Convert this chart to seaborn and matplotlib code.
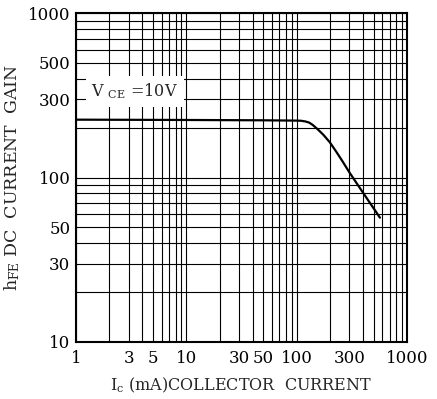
import numpy as np
import pandas as pd
import matplotlib
matplotlib.use("Agg")
import matplotlib.pyplot as plt
import matplotlib.ticker as mticker
import seaborn as sns

# values
ic_ma = [1, 10, 50, 100, 110, 120, 130, 140, 155, 175, 200, 230, 260, 300, 350, 400, 460, 520, 570]
hfe = [225, 224, 223, 222, 221.5, 219.5, 216, 209, 197, 182, 164, 143, 126, 108, 92.5, 81, 70.5, 62.5, 57]

x_ticks = [1, 3, 5, 10, 30, 50, 100, 300, 1000]
y_ticks = [10, 30, 50, 100, 300, 500, 1000]

df = pd.DataFrame({"Ic": ic_ma, "hFE": hfe})

sns.set_style("white")
plt.rcParams["font.family"] = ["DejaVu Serif"]
plt.rcParams["mathtext.fontset"] = "dejavuserif"

fig = plt.figure(figsize=(4.37, 3.99), dpi=100)
ax = fig.add_axes([0.174, 0.143, 0.757, 0.824])

sns.lineplot(data=df, x="Ic", y="hFE", ax=ax, color="black", linewidth=1.6, zorder=4)

ax.set_xscale("log")
ax.set_yscale("log")
ax.set_xlim(1, 1000)
ax.set_ylim(10, 1000)

ax.xaxis.set_major_locator(mticker.FixedLocator(x_ticks))
ax.yaxis.set_major_locator(mticker.FixedLocator(y_ticks))
ax.xaxis.set_major_formatter(mticker.FixedFormatter([str(v) for v in x_ticks]))
ax.yaxis.set_major_formatter(mticker.FixedFormatter([str(v) for v in y_ticks]))
ax.xaxis.set_minor_locator(mticker.LogLocator(base=10, subs=np.arange(1, 10), numticks=20))
ax.yaxis.set_minor_locator(mticker.LogLocator(base=10, subs=np.arange(1, 10), numticks=20))
ax.xaxis.set_minor_formatter(mticker.NullFormatter())
ax.yaxis.set_minor_formatter(mticker.NullFormatter())

ax.grid(True, which="both", color="black", linewidth=0.8)
ax.set_axisbelow(True)
ax.tick_params(which="both", length=0, labelsize=12, colors="black")
ax.tick_params(axis="x", pad=6)
ax.tick_params(axis="y", pad=4)

for s in ax.spines.values():
    s.set_color("black")
    s.set_linewidth(1.5)

ax.text(3.4, 335, r"V $\mathregular{_{CE}}$ =10V", fontsize=11.5, ha="center", va="center",
        zorder=5, bbox=dict(facecolor="white", edgecolor="none", pad=4))

ax.set_xlabel(r"I$\mathregular{_{c}}$ (mA)COLLECTOR  CURRENT", fontsize=11.5, labelpad=6)
ax.set_ylabel(r"h$\mathregular{_{FE}}$ DC  CURRENT  GAIN", fontsize=12.5, labelpad=4)

fig.savefig("out.png", dpi=100, facecolor="white")
